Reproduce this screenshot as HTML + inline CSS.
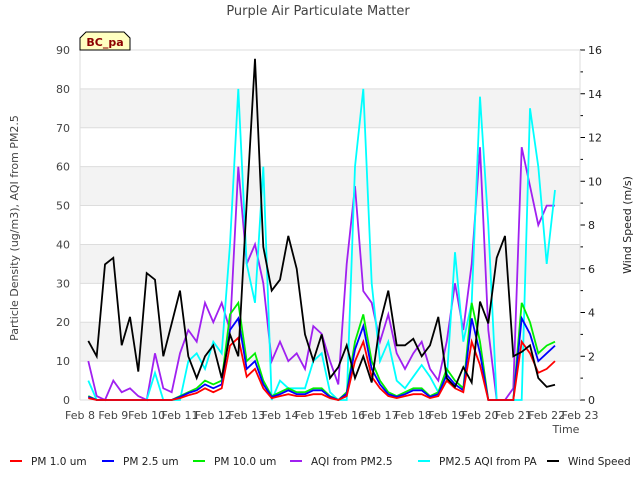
<!DOCTYPE html>
<html><head><meta charset="utf-8"><style>
body{margin:0;background:#fff;font-family:"Liberation Sans",sans-serif;}
svg text{font-family:"DejaVu Sans","Liberation Sans",sans-serif;}
</style></head><body>
<svg id="c" width="640" height="480" xmlns="http://www.w3.org/2000/svg">
<rect width="640" height="480" fill="#fff"/>
<text x="318" y="15" text-anchor="middle" font-size="13" fill="#444">Purple Air Particulate Matter</text>
<g id="bands"></g><g id="grid"></g><g id="axes"></g><g id="series"></g>
<path d="M80,50 L80,38 L86,32 L124,32 L130,38 L130,50 Z" fill="#ffffc0" stroke="#000"/>
<text x="105" y="46" text-anchor="middle" font-size="11" font-weight="bold" fill="#8b0000">BC_pa</text>
<text transform="translate(18,228) rotate(-90)" text-anchor="middle" font-size="11" fill="#444">Particle Density (ug/m3), AQI from PM2.5</text>
<text transform="translate(631,225) rotate(-90)" text-anchor="middle" font-size="11" fill="#222">Wind Speed (m/s)</text>
<text x="566" y="433" text-anchor="middle" font-size="11" fill="#444">Time</text>
<g id="legend"></g>
</svg>
<script>
const days=[8,9,10,11,12,13,14,15,16,17,18,19,20,21,22,23];
const leftTicks=[0,10,20,30,40,50,60,70,80,90];
const rightTicks=[0,2,4,6,8,10,12,14,16];
const t0=8.25, dt=0.25;
const pa=[5,0,0,0,0,0,0,0,7,0,0,0,10,12,8,15,12,40,80,35,25,60,0,5,3,3,3,10,12,2,0,0,60,80,30,10,15,5,3,6,9,6,2,5,38,15,25,78,45,0,0,0,0,75,60,35,54];
const aqi=[10,1,0,5,2,3,1,0,12,3,2,12,18,15,25,20,25,18,60,35,40,30,10,15,10,12,8,19,17,10,4,35,55,28,25,15,22,12,8,12,15,8,5,15,30,18,35,65,18,0,0,3,65,55,45,50,50];
const pm10=[1,0,0,0,0,0,0,0,0,0,0,1,2,3,5,4,5,22,25,10,12,5,1,2,3,2,2,3,3,1,0,2,15,22,10,5,2,1,2,3,3,1,2,8,5,3,25,15,0,0,0,0,25,20,12,14,15];
const pm25=[0.8,0,0,0,0,0,0,0,0,0,0,0.8,1.8,2.5,4,3,4,18,21,8,10,4,0.8,1.5,2.5,1.5,1.5,2.5,2.5,0.8,0,1.6,13,19,8,4,1.5,0.8,1.5,2.5,2.5,0.8,1.5,6.5,4,2.5,21,12,0,0,0,0,21,17,10,12,14];
const pm1=[0.5,0,0,0,0,0,0,0,0,0,0,0.5,1.2,1.8,3,2,3,14,16,6,8,3,0.5,1,1.5,1,1,1.5,1.5,0.5,0,1,10,15,6,3,1,0.5,1,1.5,1.5,0.5,1,5,3,2,15,9,0,0,0,0,15,12,7,8,10];
const wind=[2.7,2.0,6.2,6.5,2.5,3.8,1.3,5.8,5.5,2.0,3.5,5.0,2.0,1.0,2.0,2.5,1.0,3.0,2.0,9.0,15.6,7.0,5.0,5.5,7.5,6.0,3.0,1.8,3.0,1.0,1.5,2.5,1.0,2.0,0.8,3.5,5.0,2.5,2.5,2.8,2.0,2.5,3.8,1.0,0.6,1.5,0.8,4.5,3.5,6.5,7.5,2.0,2.2,2.5,1.0,0.6,0.7];
const L=80,R=580,T=50,B=400,NS="http://www.w3.org/2000/svg";
const x=d=>L+(d-8)/15*(R-L), y=v=>B-v/90*(B-T), y2=v=>B-v/16*(B-T);
function mk(tag,a,p){const e=document.createElementNS(NS,tag);for(const k in a)e.setAttribute(k,a[k]);document.getElementById(p).appendChild(e);return e;}
for(let v=10;v<90;v+=20){const r=mk('rect',{x:L,y:y(v+10),width:R-L,height:y(v)-y(v+10),fill:'#f3f3f3'},'bands');

}
leftTicks.forEach(v=>{const g=mk('line',{x1:L,x2:R,y1:y(v),y2:y(v),stroke:'#ddd'},'grid');


const t=mk('text',{x:70,y:y(v)+4,'text-anchor':'end','font-size':11,fill:'#444'},'axes');t.textContent=v;

});
rightTicks.forEach(v=>{mk('line',{x1:R,x2:R+5,y1:y2(v),y2:y2(v),stroke:'#000'},'axes');if(v<16)mk('line',{x1:R,x2:R+3,y1:y2(v+1),y2:y2(v+1),stroke:'#000'},'axes');
const t=mk('text',{x:588,y:y2(v)+4,'font-size':11,fill:'#222'},'axes');t.textContent=v;

});
mk('line',{x1:L,x2:L,y1:T,y2:B,stroke:'#ddd'},'axes');mk('line',{x1:R,x2:R,y1:T,y2:B,stroke:'#ddd'},'axes');
days.forEach(d=>{const t=mk('text',{x:x(d),y:419,'text-anchor':'middle','font-size':11,fill:'#444'},'axes');t.textContent='Feb '+d;

});
const ser=[[pa,'#00ffff',y,'pa-aqi-line'],[aqi,'#a020f0',y,'aqi-line'],[pm10,'#00ee00',y,'pm10-line'],[pm25,'#0000ff',y,'pm25-line'],[pm1,'#ff0000',y,'pm1-line'],[wind,'#000',y2,'wind-line']];
const order=[1,0,2,3,4,5];
order.forEach(i=>{const [d,c,f,n]=ser[i];const p=mk('polyline',{points:d.map((v,j)=>x(t0+j*dt).toFixed(1)+','+f(v).toFixed(1)).join(' '),fill:'none',stroke:c,'stroke-width':1.8},'series');

});
const leg=[['PM 1.0 um','#ff0000',10],['PM 2.5 um','#0000ff',102],['PM 10.0 um','#00ee00',193],['AQI from PM2.5','#a020f0',290],['PM2.5 AQI from PA','#00ffff',418],['Wind Speed','#000',547]];
leg.forEach(([s,c,lx])=>{mk('line',{x1:lx,x2:lx+12,y1:461,y2:461,stroke:c,'stroke-width':2},'legend');
const t=mk('text',{x:lx+21,y:465,'font-size':10.5,fill:'#222'},'legend');t.textContent=s;

});
</script>
</body></html>
